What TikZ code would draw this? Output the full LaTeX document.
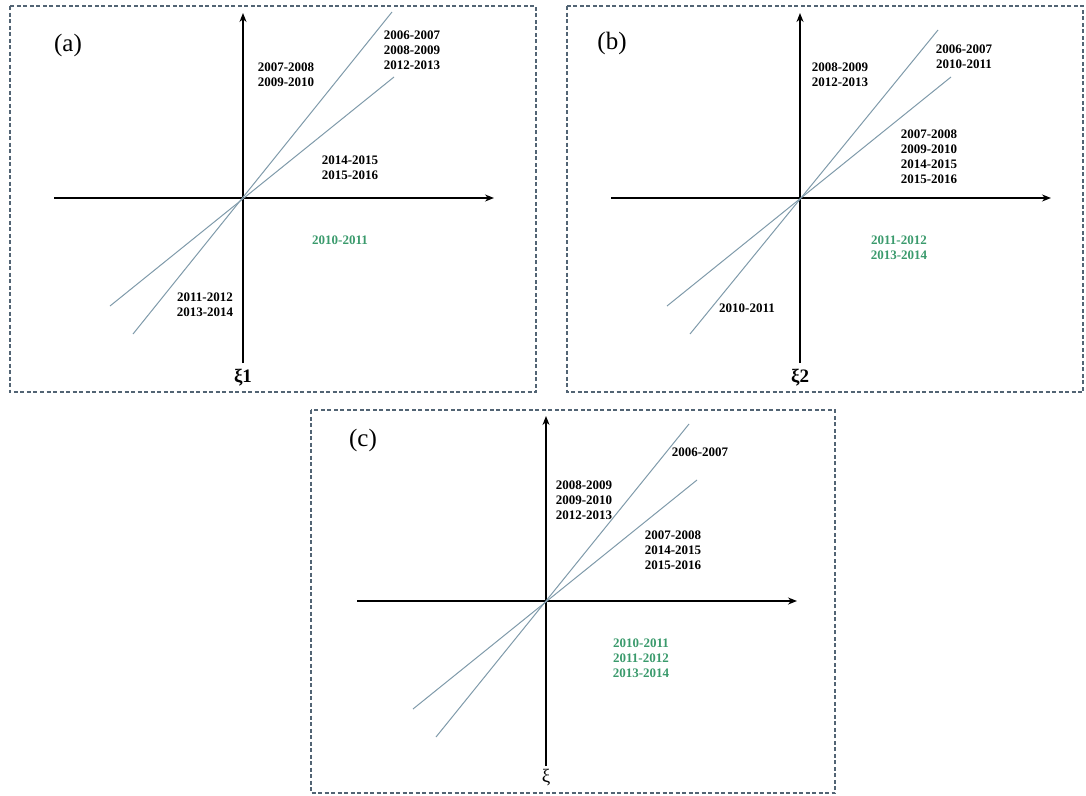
\documentclass[tikz,border=0pt]{standalone}
\usepackage{fontspec}
\setmainfont{Liberation Serif}
\usetikzlibrary{arrows.meta}
\definecolor{boxgray}{HTML}{526474}
\definecolor{linegray}{HTML}{7F9AAA}
\definecolor{yeargreen}{HTML}{3A9A6C}
\tikzset{
  panelbox/.style={draw=boxgray, line width=1.3pt, dash pattern=on 4pt off 2.5pt},
  axis/.style={line width=1.4pt, -{Stealth[length=9pt, width=7pt]}},
  ray/.style={linegray, line width=1pt},
  years/.style={font=\fontsize{13}{15}\selectfont\bfseries, align=center},
  green years/.style={years, text=yeargreen},
  tag/.style={font=\fontsize{25}{27}\selectfont},
  axlabel/.style={font=\fontsize{19}{21}\selectfont\bfseries}
}
\begin{document}
\begin{tikzpicture}[x=1pt, y=-1pt]
  \useasboundingbox (0,0) rectangle (1086,795);
  \draw[panelbox] (10,6) rectangle (536,392);
  \draw[panelbox] (567,6) rectangle (1083,392);
  \draw[panelbox] (311,410) rectangle (835,793);
  \foreach \p/\ox/\oy/\sx/\sy in {a/243/198/149/-186, b/800/198/138/-168, c/546/601/143/-177} {
    \coordinate (o\p) at (\ox,\oy);
    \coordinate (top\p) at (\ox,\oy-185);
    \coordinate (bot\p) at (\ox,\oy+165);
    \coordinate (lft\p) at (\ox-189,\oy);
    \coordinate (rgt\p) at (\ox+251,\oy);
    \coordinate (su\p) at (\ox+\sx,\oy+\sy);
    \coordinate (sd\p) at (\ox-110,\oy+136);
    \coordinate (fu\p) at (\ox+151,\oy-121);
    \coordinate (fd\p) at (\ox-133,\oy+108);
    \draw[axis] (bot\p) -- (top\p);
    \draw[axis] (lft\p) -- (rgt\p);
    \draw[ray] (sd\p) -- (su\p);
    \draw[ray] (fd\p) -- (fu\p);
  }
  % panel (a)
  \node[tag] (taga) at (68,45) {(a)};
  \node[years] (a1) at (286,75) {2007-2008\\2009-2010};
  \node[years] (a2) at (412,50) {2006-2007\\2008-2009\\2012-2013};
  \node[years] (a3) at (350,168) {2014-2015\\2015-2016};
  \node[green years] (a4) at (340,240) {2010-2011};
  \node[years] (a5) at (205,305) {2011-2012\\2013-2014};
  \node[axlabel] (xia) at (243,378) {ξ1};
  % panel (b)
  \node[tag] (tagb) at (612,43) {(b)};
  \node[years] (b1) at (840,75) {2008-2009\\2012-2013};
  \node[years] (b2) at (964,57) {2006-2007\\2010-2011};
  \node[years] (b3) at (929,157) {2007-2008\\2009-2010\\2014-2015\\2015-2016};
  \node[green years] (b4) at (899,248) {2011-2012\\2013-2014};
  \node[years] (b5) at (747,308) {2010-2011};
  \node[axlabel] (xib) at (800,378) {ξ2};
  % panel (c)
  \node[tag] (tagc) at (363,440) {(c)};
  \node[years] (c1) at (584,500) {2008-2009\\2009-2010\\2012-2013};
  \node[years] (c2) at (700,452) {2006-2007};
  \node[years] (c3) at (673,550) {2007-2008\\2014-2015\\2015-2016};
  \node[green years] (c4) at (641,658) {2010-2011\\2011-2012\\2013-2014};
  \node[axlabel, font=\fontsize{19}{21}\selectfont] (xic) at (546,778) {ξ};
\end{tikzpicture}
\end{document}
